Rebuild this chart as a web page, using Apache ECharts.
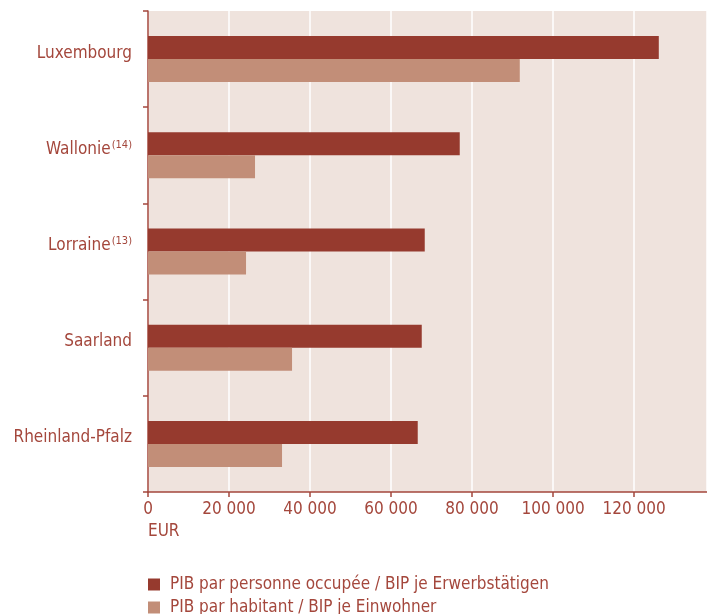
<!DOCTYPE html>
<html>
<head>
<meta charset="utf-8">
<style>
html,body{margin:0;padding:0;background:#fff;}
#chart{width:707px;height:614px;}
</style>
<script src="https://cdn.jsdelivr.net/npm/echarts@6/dist/echarts.min.js"></script>
</head>
<body>
<div id="chart"></div>
<script>
const regions = ['Luxembourg', 'Wallonie', 'Lorraine', 'Saarland', 'Rheinland-Pfalz'];
const regionNotes = ['', '(14)', '(13)', '', ''];
const seriesNames = ['PIB par personne occupée / BIP je Erwerbstätigen', 'PIB par habitant / BIP je Einwohner'];
const perWorker = [126100, 76960, 68320, 67580, 66590];
const perInhabitant = [91780, 26420, 24200, 35560, 33090];
const unitLabel = 'EUR';

const FONT = "'Liberation Sans Narrow', 'DejaVu Sans Condensed', 'Roboto', sans-serif";
const TEXT = '#A4473C';
const AXIS = '#A4473C';
const DARK = '#963A2E';
const LIGHT = '#C28E78';
const FS = 17;

const legendBase = {
  orient: 'vertical', left: 148, padding: 0,
  itemWidth: 12, itemHeight: 12, itemGap: 11,
  icon: 'rect', selectedMode: false,
  textStyle: { fontFamily: FONT, fontSize: FS, color: TEXT, padding: [0, 0, 0, 5] }
};

const chart = echarts.init(document.getElementById('chart'));
chart.setOption({
  animation: false,
  textStyle: { fontFamily: FONT },
  grid: {
    left: 148, right: 0, top: 11, bottom: 122,
    outerBoundsMode: 'none', containLabel: false,
    show: true, backgroundColor: '#EFE3DD', borderWidth: 0
  },
  legend: [
    Object.assign({}, legendBase, { top: 576, data: [seriesNames[0]] }),
    Object.assign({}, legendBase, { top: 599, data: [seriesNames[1]] })
  ],
  xAxis: {
    type: 'value', min: 0, max: 138000, interval: 20000,
    axisLine: { show: true, lineStyle: { color: AXIS, width: 1.5 } },
    axisTick: { show: true, length: 5, lineStyle: { color: AXIS, width: 1.5 } },
    splitLine: { show: true, lineStyle: { color: '#FFFFFF', width: 1.5 } },
    axisLabel: {
      showMaxLabel: false, color: TEXT, fontFamily: FONT, fontSize: FS, margin: 9,
      formatter: v => String(v).replace(/\B(?=(\d{3})+(?!\d))/g, ' ')
    }
  },
  yAxis: {
    type: 'category', inverse: true, data: regions,
    axisLine: { show: true, lineStyle: { color: AXIS, width: 1.5 } },
    axisTick: { show: true, length: 5, lineStyle: { color: AXIS, width: 1.5 } },
    axisLabel: {
      color: TEXT, fontFamily: FONT, fontSize: FS, margin: 16,
      padding: [0, 0, 12, 0],
      formatter: (v, i) => regionNotes[i] ? '{m|' + v + '}{s|' + regionNotes[i] + '}' : '{m|' + v + '}',
      rich: {
        m: { color: TEXT, fontFamily: FONT, fontSize: FS, lineHeight: 20 },
        s: { color: TEXT, fontFamily: FONT, fontSize: 11, lineHeight: 20, verticalAlign: 'top', padding: [0, 0, 0, 1] }
      }
    }
  },
  graphic: [{
    type: 'text', left: 148, top: 523,
    style: { text: unitLabel, fill: TEXT, font: FS + 'px ' + FONT }
  }],
  series: [
    { name: seriesNames[0], type: 'bar', data: perWorker, barWidth: 23, barGap: '0%', itemStyle: { color: DARK } },
    { name: seriesNames[1], type: 'bar', data: perInhabitant, barWidth: 23, barGap: '0%', itemStyle: { color: LIGHT } }
  ]
});
</script>
</body>
</html>
